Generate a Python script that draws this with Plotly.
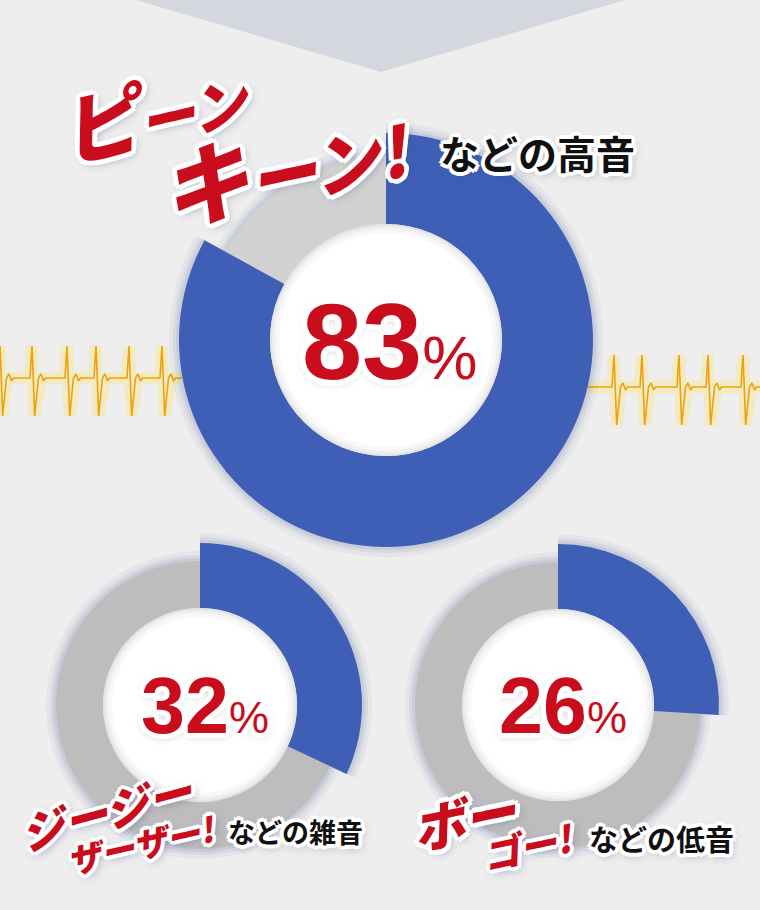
import plotly.graph_objects as go

# ---------------- data ----------------
categories = ["高音", "雑音", "低音"]
percent_values = [83, 32, 26]
rest_values = [17, 68, 74]
onomatopoeia_line1 = ["ピーン", "ジージー", "ボー"]
onomatopoeia_line2 = ["キーン!", "ザーザー!", "ゴー!"]
suffix_labels = ["などの高音", "などの雑音", "などの低音"]

# decorative ECG (spike positions in px, beat template)
ecg_left_spikes = [0, 32, 67, 96, 129, 162]
ecg_right_spikes = [614, 642, 679, 708, 743]
ecg_beat_dx = [-2, 0, 2.7, 6.5, 9, 11.5, 13.5]
ecg_beat_dy = [0, -32, 38, 0, -4, 3, 0]

# ---------------- layout / style ----------------
W, H = 760, 910
BG = "#eeeeee"
BLUE = "#3f5fb7"
GRAY_TOP = "#d1d1d1"
GRAY_BOTTOM = "#bdbdbd"
RED = "#c90d1c"

# cx, cy, r_main, r_rest, r_hole, rest colour
donut_geom = [
    (386, 340, 207, 183, 116, GRAY_TOP),
    (200, 705, 162, 144, 97, GRAY_BOTTOM),
    (558, 705, 161, 143, 96, GRAY_BOTTOM),
]
# number label: x, y, size, pct size
num_geom = [(389, 341, 108, 62), (205, 705, 79, 45), (563, 705, 79, 45)]
# line1: x, y, first-char size, rest size, angle
line1_geom = [(153, 108, 78, 56, -13), (106, 810, 44, 44, -15), (464, 817, 52, 52, -12)]
line2_geom = [(284, 162, 88, 68, -12), (141, 843, 34, 34, -13), (528, 845, 37, 37, -12)]
suffix_geom = [(537, 152, 39), (295, 831, 27), (661, 838, 29)]

JP = "Noto Sans CJK JP, Noto Sans, sans-serif"
NUMF = "Liberation Sans, Arial, sans-serif"


def outline(r, glow):
    pts = []
    for rr in (r, r * 0.6):
        for dx, dy in [(1, 0), (-1, 0), (0, 1), (0, -1), (0.7, 0.7), (-0.7, -0.7), (0.7, -0.7), (-0.7, 0.7)]:
            pts.append(f"{dx*rr:.1f}px {dy*rr:.1f}px 0 #ffffff")
    pts.append(glow)
    return ", ".join(pts)


def dom(cx, cy, r):
    return dict(x=[(cx - r) / W, (cx + r) / W], y=[1 - (cy + r) / H, 1 - (cy - r) / H])


fig = go.Figure()

# ECG decoration
def ecg(spikes, base, x0, x1):
    xs, ys = [x0], [base]
    for s in spikes:
        for dx, dy in zip(ecg_beat_dx, ecg_beat_dy):
            xs.append(s + dx)
            ys.append(base + dy)
    xs.append(x1)
    ys.append(base)
    return xs, ys

for spikes, base, x0, x1 in [(ecg_left_spikes, 378, -3, 182), (ecg_right_spikes, 387, 588, 762)]:
    xs, ys = ecg(spikes, base, x0, x1)
    fig.add_trace(go.Scatter(x=xs, y=ys, mode="lines", line=dict(color="rgba(255,225,80,0.28)", width=12),
                             hoverinfo="skip", showlegend=False))
    fig.add_trace(go.Scatter(x=xs, y=ys, mode="lines", line=dict(color="#f0a10a", width=1.6),
                             hoverinfo="skip", showlegend=False))

# donuts: glow layers then main
for i, (cx, cy, rm, rr, rh, gcol) in enumerate(donut_geom):
    vals = [percent_values[i], rest_values[i]]
    labs = [categories[i], "その他"]
    for k, a in [(10, 0.05), (6, 0.07), (3, 0.09)]:
        fig.add_trace(go.Pie(values=vals, labels=labs, domain=dom(cx, cy, rm + k), hole=rh / (rm + k),
                             sort=False, direction="clockwise", rotation=0, textinfo="none",
                             hoverinfo="skip", showlegend=False,
                             marker=dict(colors=[f"rgba(60,75,140,{a})", "rgba(0,0,0,0)"], line=dict(width=0))))
        fig.add_trace(go.Pie(values=vals, labels=labs, domain=dom(cx, cy, rr + k), hole=rh / (rr + k),
                             sort=False, direction="clockwise", rotation=0, textinfo="none",
                             hoverinfo="skip", showlegend=False,
                             marker=dict(colors=["rgba(0,0,0,0)", f"rgba(60,75,140,{a})"], line=dict(width=0))))
    fig.add_trace(go.Pie(values=vals, labels=labs, domain=dom(cx, cy, rr), hole=rh / rr,
                         sort=False, direction="clockwise", rotation=0, textinfo="none",
                         hoverinfo="skip", showlegend=False,
                         marker=dict(colors=["rgba(0,0,0,0)", gcol], line=dict(width=0))))
    fig.add_trace(go.Pie(values=vals, labels=labs, domain=dom(cx, cy, rm), hole=rh / rm,
                         sort=False, direction="clockwise", rotation=0, textinfo="none",
                         hoverinfo="skip", showlegend=False,
                         marker=dict(colors=[BLUE, "rgba(0,0,0,0)"], line=dict(width=0))))

shapes = [
    dict(type="path", path="M 136 0 L 625 0 L 381 72 Z", xref="x", yref="y",
         fillcolor="#d4d7dd", line=dict(width=0), layer="below"),
]
for cx, cy, rm, rr, rh, gcol in donut_geom:
    for d, col in [(0, "#e4e4e4"), (2, "#efefef"), (5, "#f8f8f8"), (9, "#ffffff")]:
        shapes.append(dict(type="circle", xref="x", yref="y", x0=cx - rh + d, x1=cx + rh - d,
                           y0=cy - rh + d, y1=cy + rh - d, fillcolor=col, line=dict(width=0), layer="above"))

annotations = []
for i in range(3):
    x, y, s, ps = num_geom[i]
    annotations.append(dict(
        x=x, y=y, xref="x", yref="y", showarrow=False, xanchor="center", yanchor="middle",
        text=f"{percent_values[i]}<span style='font-size:{ps}px;font-weight:normal'>%</span>",
        font=dict(family=NUMF, size=s, color=RED, weight="bold",
                  shadow=outline(6 if i == 0 else 5, "0 2px 10px rgba(0,0,0,0.35)"))))
    for geom, txt in [(line1_geom[i], onomatopoeia_line1[i]), (line2_geom[i], onomatopoeia_line2[i])]:
        x, y, s1, s2, ang = geom
        if s1 != s2:
            t = f"<span style='font-size:{s1}px'>{txt[0]}</span>{txt[1:]}"
        else:
            t = txt
        annotations.append(dict(
            x=x, y=y, xref="x", yref="y", showarrow=False, xanchor="center", yanchor="middle",
            text=t, textangle=ang,
            font=dict(family=JP, size=s2, color=RED, weight=900, style="italic",
                      shadow=outline(5 if s2 > 45 else 4, "2px 3px 10px rgba(60,70,130,0.55)"))))
    x, y, s = suffix_geom[i]
    annotations.append(dict(
        x=x, y=y, xref="x", yref="y", showarrow=False, xanchor="center", yanchor="middle",
        text=suffix_labels[i],
        font=dict(family=JP, size=s, color="#111111", weight="bold",
                  shadow=outline(4, "2px 3px 8px rgba(60,70,130,0.5)"))))

fig.update_layout(
    width=W, height=H, margin=dict(l=0, r=0, t=0, b=0),
    paper_bgcolor=BG, plot_bgcolor="rgba(0,0,0,0)",
    xaxis=dict(range=[0, W], visible=False, fixedrange=True),
    yaxis=dict(range=[H, 0], visible=False, fixedrange=True),
    shapes=shapes, annotations=annotations, showlegend=False,
)

fig.write_html("out.html", config={"displayModeBar": False},
               post_script="document.body.style.margin='0';document.body.style.overflow='hidden';")
